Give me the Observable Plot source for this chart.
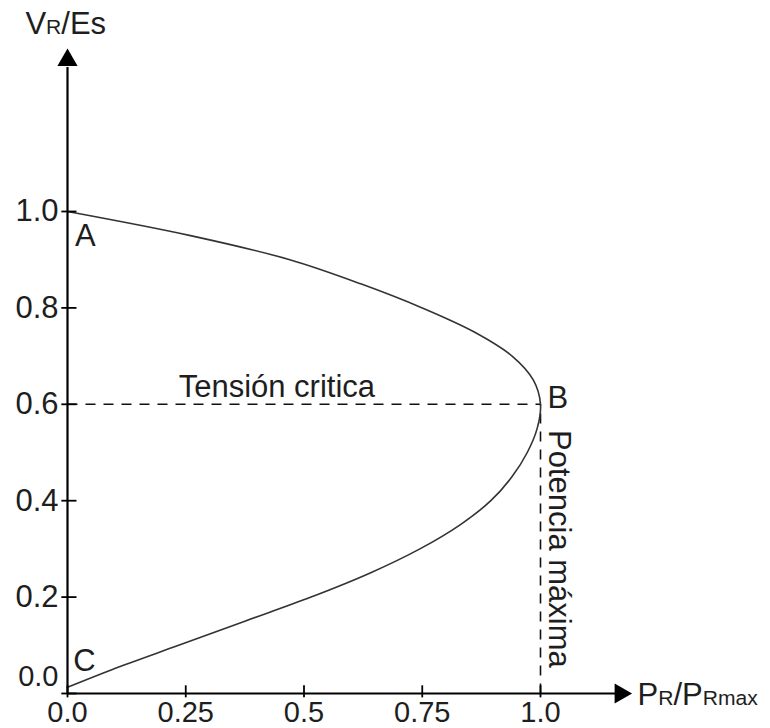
<!DOCTYPE html>
<html>
<head>
<meta charset="utf-8">
<script src="https://cdn.jsdelivr.net/npm/d3@7"></script>
<script src="https://cdn.jsdelivr.net/npm/@observablehq/plot@0.6"></script>
<style>
  html, body { margin: 0; padding: 0; background: #fff; }
  #chart { width: 770px; height: 728px; }
</style>
</head>
<body>
<div id="chart"></div>
<script>
// Curve: upper branch A -> B, then lower branch B -> C
const curveV = [1.0, 0.95, 0.9, 0.85, 0.8, 0.75, 0.7, 0.65, 0.6,
                0.55, 0.5, 0.45, 0.4, 0.35, 0.3, 0.25, 0.2, 0.15, 0.1, 0.05, 0.013];
const curveP = [0, 0.26, 0.47, 0.62, 0.75, 0.86, 0.94, 0.985, 1.0,
                0.993, 0.972, 0.94, 0.895, 0.83, 0.745, 0.64, 0.515, 0.375, 0.235, 0.095, 0];

// Ticks
const xTicks = [0, 0.25, 0.5, 0.75, 1.0];
const xTickLabels = ["0.0", "0.25", "0.5", "0.75", "1.0"];
const yTicks = [0, 0.2, 0.4, 0.6, 0.8, 1.0];
const yTickLabels = ["0.0", "0.2", "0.4", "0.6", "0.8", "1.0"];

// Critical point
const criticalP = 1.0;
const criticalV = 0.6;

// Point labels
const pointNames = ["A", "B", "C"];
const pointP = [0.016, 1.015, 0.012];
const pointV = [0.948, 0.613, 0.068];

// Axis extents / titles
const xAxisEnd = 1.16;
const yAxisEnd = 1.30;
const xArrowP = 1.169;
const yArrowV = 1.314;
const yTitle = "VR/Es";
const xTitle = "PR/PRmax";
const yTitlePos = [-0.089, 1.388];
const xTitlePos = [1.205, -0.004];
const criticalLabel = "Tensión critica";
const criticalLabelPos = [0.235, 0.636];
const maxLabel = "Potencia máxima";
const maxLabelPos = [1.038, 0.30];

const curve = curveP.map((p, i) => ({P: p, V: curveV[i]}));
const points = pointNames.map((n, i) => ({name: n, P: pointP[i], V: pointV[i]}));
const font = "'Liberation Sans', Arial, sans-serif";
const fs = 31;
const ink = "#1e1e1e";

const plot = Plot.plot({
  width: 770,
  height: 728,
  marginLeft: 67,
  marginRight: 230,
  marginTop: 211,
  marginBottom: 35,
  x: {type: "linear", domain: [0, 1], axis: null},
  y: {type: "linear", domain: [0, 1], axis: null},
  style: {fontFamily: font, background: "#fff"},
  marks: [
    // dashed guides
    Plot.link([criticalV], {x1: 0, x2: criticalP, y1: d => d, y2: d => d, stroke: "#111", strokeWidth: 1.6, strokeDasharray: "10,8"}),
    Plot.link([criticalP], {x1: d => d, x2: d => d, y1: 0, y2: criticalV, stroke: "#111", strokeWidth: 1.6, strokeDasharray: "10,8"}),
    // curve
    Plot.line(curve, {x: "P", y: "V", curve: "catmull-rom", stroke: "#333", strokeWidth: 1.6}),
    // axes
    Plot.link([0], {x1: 0, x2: xAxisEnd, y1: d => d, y2: d => d, stroke: "#000", strokeWidth: 2.2}),
    Plot.link([0], {x1: d => d, x2: d => d, y1: 0, y2: yAxisEnd, stroke: "#000", strokeWidth: 2.2}),
    Plot.dot([{P: xArrowP, V: 0}], {x: "P", y: "V", symbol: "triangle", r: 7.5, fill: "#000", stroke: "none", rotate: 90}),
    Plot.dot([{P: 0, V: yArrowV}], {x: "P", y: "V", symbol: "triangle", r: 7.5, fill: "#000", stroke: "none"}),
    // ticks
    Plot.link(xTicks, {x1: d => d, x2: d => d, y1: -0.008, y2: 0.017, stroke: "#000", strokeWidth: 1.8}),
    Plot.link(yTicks, {y1: d => d, y2: d => d, x1: -0.013, x2: 0.019, stroke: "#000", strokeWidth: 1.8}),
    // tick labels
    Plot.text(xTicks, {x: d => d, y: 0, text: (d, i) => xTickLabels[i], lineAnchor: "bottom", dy: 28, fontSize: 29, fill: ink}),
    Plot.text(yTicks, {filter: d => d !== 0, x: 0, y: d => d, text: (d, i) => yTickLabels[i], dx: -9, textAnchor: "end", fontSize: fs, fill: ink}),
    Plot.text(yTicks, {filter: d => d === 0, x: 0, y: d => d, text: (d, i) => yTickLabels[i], dx: -9, dy: -17, textAnchor: "end", fontSize: 29, fill: ink}),
    // point labels
    Plot.text(points, {x: "P", y: "V", text: "name", textAnchor: "start", fontSize: fs, fill: ink}),
    // annotations
    Plot.text([criticalLabel], {x: criticalLabelPos[0], y: criticalLabelPos[1], text: d => d, textAnchor: "start", fontSize: fs, fill: ink}),
    Plot.text([maxLabel], {x: maxLabelPos[0], y: maxLabelPos[1], text: d => d, rotate: 90, fontSize: fs, fill: ink}),
    Plot.text([yTitle], {x: yTitlePos[0], y: yTitlePos[1], text: d => d, textAnchor: "start", fontSize: fs, fill: ink}),
    Plot.text([xTitle], {x: xTitlePos[0], y: xTitlePos[1], text: d => d, textAnchor: "start", fontSize: fs, fill: ink})
  ]
});

// Subscripts in axis titles
function subscriptify(el, parts) {
  while (el.firstChild) el.removeChild(el.firstChild);
  parts.forEach(([txt, small]) => {
    const ts = document.createElementNS("http://www.w3.org/2000/svg", "tspan");
    ts.textContent = txt;
    if (small) ts.setAttribute("font-size", "0.68em");
    el.appendChild(ts);
  });
}
plot.querySelectorAll("text").forEach(t => {
  if (t.textContent === yTitle) subscriptify(t, [["V", false], ["R", true], ["/Es", false]]);
  else if (t.textContent === xTitle) subscriptify(t, [["P", false], ["R", true], ["/P", false], ["Rmax", true]]);
});

document.getElementById("chart").appendChild(plot);
</script>
</body>
</html>
